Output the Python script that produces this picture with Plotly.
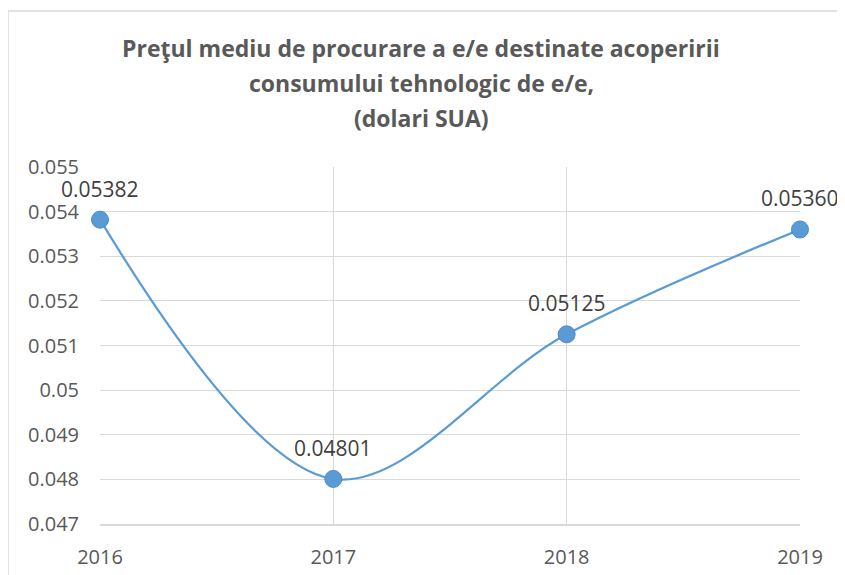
import plotly.graph_objects as go

years = [2016, 2017, 2018, 2019]
prices = [0.05382, 0.04801, 0.05125, 0.05360]
labels = ["0.05382", "0.04801", "0.05125", "0.05360"]
y_ticks = [0.047, 0.048, 0.049, 0.05, 0.051, 0.052, 0.053, 0.054, 0.055]
y_tick_text = ["0.047", "0.048", "0.049", "0.05", "0.051", "0.052", "0.053", "0.054", "0.055"]
title_lines = ["Preţul mediu de procurare a e/e destinate acoperirii",
               "consumului tehnologic de e/e,",
               "(dolari SUA)"]
title_y = [1.333, 1.2347, 1.1367]

BLUE = "#5B9BD5"
FONT = "Open Sans"

fig = go.Figure()
fig.add_trace(go.Scatter(
    x=years, y=prices, mode="lines+markers",
    line=dict(color=BLUE, width=2.25, shape="spline", smoothing=1.0),
    marker=dict(size=17, color=BLUE, line=dict(color="#4A8AC8", width=1)),
    cliponaxis=False, hoverinfo="skip", showlegend=False,
))

for xv, yv, t in zip(years, prices, labels):
    fig.add_annotation(x=xv, y=yv, text=t, showarrow=False, yshift=31,
                       font=dict(family=FONT, size=21, color="#404040"))

for t, ty in zip(title_lines, title_y):
    fig.add_annotation(xref="paper", yref="paper", x=0.459, y=ty, text=t,
                       showarrow=False, yanchor="middle", xanchor="center",
                       font=dict(family=FONT, size=23, color="#595959", weight="bold"))

# outer chart frame
fig.add_shape(type="rect", xref="paper", yref="paper",
              x0=-0.1314, x1=1.2, y0=-0.3, y1=1.437,
              line=dict(color="#D9D9D9", width=1.5), layer="below")

fig.update_layout(
    width=837, height=567,
    margin=dict(l=92, r=45, t=159, b=51),
    paper_bgcolor="white", plot_bgcolor="white",
    font=dict(family=FONT, color="#595959"),
    xaxis=dict(range=[2016, 2019], tickvals=years, ticktext=[str(y) for y in years],
               showgrid=True, gridcolor="#D9D9D9", gridwidth=1, automargin=False,
               zeroline=False, showline=True, linecolor="#D9D9D9", linewidth=1.5,
               ticks="", ticklabelstandoff=14,
               tickfont=dict(family=FONT, size=20, color="#595959")),
    yaxis=dict(range=[0.047, 0.055], tickvals=y_ticks, ticktext=y_tick_text,
               showgrid=True, gridcolor="#D9D9D9", gridwidth=1, automargin=False,
               zeroline=False, showline=False, ticks="", ticklabelstandoff=20,
               tickfont=dict(family=FONT, size=20, color="#595959")),
)

fig.write_html("out.html")
